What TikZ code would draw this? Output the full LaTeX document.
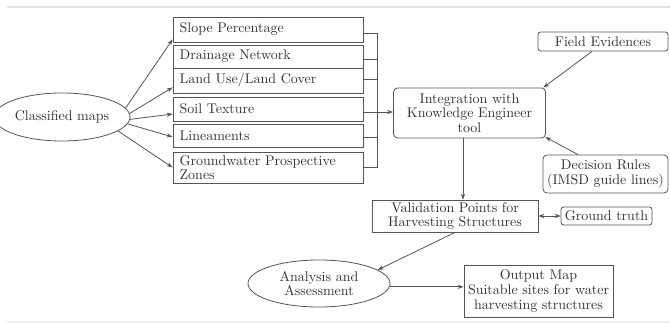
\documentclass[tikz,border=0pt]{standalone}
\usetikzlibrary{arrows.meta,shapes.geometric,calc}
\definecolor{ln}{HTML}{555555}
\definecolor{tx}{HTML}{333333}
\begin{document}
\begin{tikzpicture}[x=0.75pt,y=-0.75pt,
  every node/.style={font=\fontsize{10.5}{11}\selectfont, text=tx},
  lbox/.style={draw=ln, line width=0.6pt, minimum width=142.5pt, text width=132.5pt, inner xsep=5pt, inner ysep=1pt, align=left},
  cbox/.style={draw=ln, line width=0.6pt, align=center, inner sep=1pt},
  rbox/.style={cbox, rounded corners=3pt},
  ell/.style={draw=ln, line width=0.6pt, ellipse, align=center, inner sep=0pt},
  conn/.style={draw=ln, line width=0.6pt},
  arr/.style={conn, -{Stealth[length=4.5pt,width=3.2pt]}},
  darr/.style={conn, {Stealth[length=4.5pt,width=3.2pt]}-{Stealth[length=4.5pt,width=3.2pt]}}
]
\useasboundingbox (0,0) rectangle (670,323);
\clip (0,0) rectangle (670,323);
\fill[white] (0,0) rectangle (670,323);
\draw[black!12, line width=1.5pt] (7,7) -- (670,7);
\draw[black!6, line width=0.8pt] (7,322) -- (670,322);

% left boxes
\node[lbox, minimum height=18.75pt] (slope) at (268,29.5) {Slope Percentage};
\node[lbox, minimum height=17.25pt] (drain) at (268,56.5) {Drainage Network};
\node[lbox, minimum height=18.75pt] (land) at (268,80.5) {Land Use/Land Cover};
\node[lbox, minimum height=18pt] (soil) at (268,109) {Soil Texture};
\node[lbox, minimum height=17.25pt] (lin) at (268,135.5) {Lineaments};
\node[lbox, minimum height=23.25pt] (gw) at (268,167.5) {Groundwater Prospective\\Zones};

\node[ell, minimum width=102pt, minimum height=36pt] (cls) at (62,117) {Classified maps};

% right side
\node[rbox, minimum width=114pt, minimum height=37.5pt] (integ) at (469.5,113) {Integration with\\Knowledge Engineer\\tool};
\node[rbox, rounded corners=2pt, minimum width=97.5pt, minimum height=14.25pt] (field) at (603,41.5) {Field Evidences};
\node[rbox, minimum width=93.75pt, minimum height=28.5pt] (dec) at (605.5,174) {Decision Rules\\(IMSD guide lines)};
\node[cbox, minimum width=124.5pt, minimum height=24pt] (val) at (455,216) {Validation Points for\\Harvesting Structures};
\node[rbox, rounded corners=2pt, minimum width=68.25pt, minimum height=13.5pt] (gt) at (606.5,216) {Ground truth};
\node[ell, minimum width=106.5pt, minimum height=35.25pt] (ana) at (319,283.5) {Analysis and\\Assessment};
\node[cbox, minimum width=111.75pt, minimum height=39pt] (out) at (538.5,291) {Output Map\\Suitable sites for water\\harvesting structures};

% fan arrows
\draw[arr] (cls.8) -- ([yshift=2.25pt]slope.south west);
\draw[arr] (cls.3) -- ([yshift=4.5pt]land.south west);
\draw[arr] (cls.-2) -- ([yshift=-3.75pt]soil.west);
\draw[arr] (cls.-6) -- ([yshift=-1.1pt]lin.west);
\draw[arr] (cls.-14) -- (gw.west);

% bracket
\coordinate (bt) at (377,33);
\coordinate (bb) at (377,167.5);
\draw[conn] (slope.east |- bt) -- (bt) -- (bb) -- (gw.east |- bb);
\draw[conn] (drain.east |- 0,59) -- (377,59);
\draw[conn] (land.east |- 0,79) -- (377,79);
\draw[conn] (soil.east |- 0,112) -- (377,112);
\draw[conn] (lin.east |- 0,137) -- (377,137);
\draw[arr] (377,112) -- (integ.west |- 0,112);

% inputs to integration
\draw[arr] ([xshift=-8.25pt]field.south) -- ([xshift=-2pt]integ.north east);
\draw[arr] ([xshift=-20.6pt]dec.north) -- ([xshift=-0.5pt,yshift=1pt]integ.south east);

% flow down
\draw[arr] ([xshift=-4.9pt]integ.south) -- ([xshift=-4.9pt]integ.south |- val.north);
\draw[darr] (val.east) -- (gt.west);
\draw[arr] (val.south) -- (ana.13);
\draw[arr] ([yshift=-2.5pt]ana.east) -- ([yshift=-2.5pt]ana.east -| out.west);
\end{tikzpicture}
\end{document}
